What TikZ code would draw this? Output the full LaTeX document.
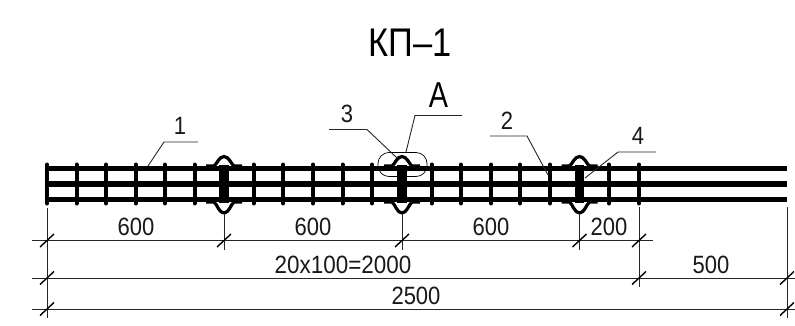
\documentclass[tikz,border=0pt]{standalone}
\usepackage{fontspec}
\setmainfont{Liberation Sans}
\tikzset{
  rod/.style={line width=5.2pt},
  bar/.style={line width=4pt,line cap=round},
  thickbar/.style={line width=9.5pt},
  bulge/.style={line width=3.2pt,line join=round},
  dimline/.style={line width=0.9pt,black!85},
  tick/.style={line width=1.4pt},
  leader/.style={line width=0.9pt,black!85},
  lbl/.style={inner sep=0pt,font=\fontsize{25}{25}\selectfont,xscale=0.88,color=black!90},
}
\begin{document}
\begin{tikzpicture}[x=1pt,y=-1pt]
\useasboundingbox (0,0) rectangle (795,326);
\fill[white] (0,0) rectangle (795,326);
% rods
\foreach \y in {168.5,184,199.5} \draw[rod] (47,\y) -- (787,\y);
% bars
\foreach \x in {47,76.5,106,135.5,165,194.5,253.5,283,313,342.5,372,431.5,461,491,520,550,609,639}
  \draw[bar] (\x,164.5) -- (\x,203.5);
% clamps
\foreach \x in {224,402,579.5}{
  \draw[thickbar] (\x,165) -- (\x,203);
  \draw[bulge] (\x-18,166) -- (\x-10,166) .. controls (\x-7,164) and (\x-5,156.5) .. (\x,156.5)
     .. controls (\x+5,156.5) and (\x+7,164) .. (\x+10,166) -- (\x+18,166);
  \draw[bulge] (\x-18,202) -- (\x-10,202) .. controls (\x-7,204) and (\x-5,213) .. (\x,213)
     .. controls (\x+5,213) and (\x+7,204) .. (\x+10,202) -- (\x+18,202);
}
% callout loop
\node[draw,line width=0.7pt,rounded corners=11pt,minimum width=49pt,minimum height=24pt,inner sep=0pt] (loop) at (402.5,164.5) {};
% coordinates
\coordinate (d0a) at (32,240.5); \coordinate (d0b) at (653,240.5);
\coordinate (d1a) at (32,278);   \coordinate (d1b) at (795,278);
\coordinate (d2a) at (32,309);   \coordinate (d2b) at (795,309);
\draw[dimline] (d0a) -- (d0b);
\draw[dimline] (d1a) -- (d1b);
\draw[dimline] (d2a) -- (d2b);
% extension lines
\coordinate (e1a) at (47,208);  \coordinate (e1b) at (47,318);
\coordinate (e2a) at (224,214); \coordinate (e2b) at (224,250);
\coordinate (e3a) at (402,214); \coordinate (e3b) at (402,250);
\coordinate (e4a) at (579.5,214); \coordinate (e4b) at (579.5,250);
\coordinate (e5a) at (639,207); \coordinate (e5b) at (639,287);
\coordinate (e6a) at (787,207); \coordinate (e6b) at (787,318);
\foreach \i in {1,...,6} \draw[dimline] (e\i a) -- (e\i b);
% ticks
\foreach \x/\y in {47/240.5,224/240.5,402/240.5,579.5/240.5,639/240.5,47/278,639/278,787/278,47/309,787/309}
  \draw[tick] (\x-7,\y+6.5) -- (\x+7,\y-6.5);
% leaders
\coordinate (l1a) at (148,166); \coordinate (l1b) at (164,142); \coordinate (l1c) at (198,142);
\coordinate (l3a) at (397,158); \coordinate (l3b) at (367,129.5); \coordinate (l3c) at (329,129.5);
\coordinate (lAa) at (406,152); \coordinate (lAb) at (415,115.5); \coordinate (lAc) at (462,115.5);
\coordinate (l2a) at (548,175); \coordinate (l2b) at (527,136); \coordinate (l2c) at (490,136);
\coordinate (l4a) at (585,178); \coordinate (l4b) at (618,152); \coordinate (l4c) at (656,152);
\foreach \n in {1,3,A,2,4} \draw[leader] (l\n a) -- (l\n b) -- (l\n c);
% texts
\node[lbl] (t600a) at (136,226.5) {600};
\node[lbl] (t600b) at (313,226.5) {600};
\node[lbl] (t600c) at (491,226.5) {600};
\node[lbl] (t200) at (609,226.5) {200};
\node[lbl,xscale=1.02] (t20) at (343,264.5) {20x100=2000};
\node[lbl] (t500) at (711,264.5) {500};
\node[lbl] (t2500) at (416,295.5) {2500};
\node[lbl] (n1) at (180,126) {1};
\node[lbl] (n3) at (347,113.5) {3};
\node[lbl] (n2) at (507,120.5) {2};
\node[lbl] (n4) at (638,136) {4};
\node[inner sep=0pt,font=\fontsize{36}{36}\selectfont,xscale=0.8] (tA) at (438.5,95) {A};
\node[inner sep=0pt,font=\fontsize{40}{40}\selectfont,xscale=0.86] (title) at (410,42.5) {КП–1};
\end{tikzpicture}
\end{document}
